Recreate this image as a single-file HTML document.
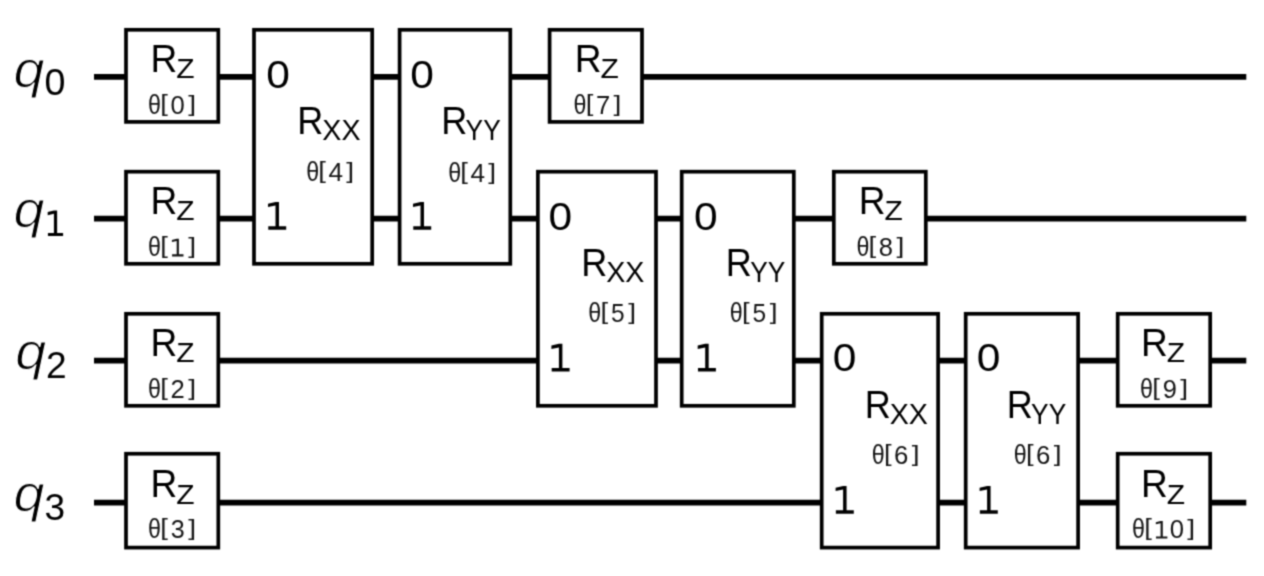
<!DOCTYPE html>
<html><head><meta charset="utf-8"><style>
html,body{margin:0;padding:0;background:#fff;}
body{width:1264px;height:576px;overflow:hidden;}
svg{display:block;font-family:"Liberation Sans", sans-serif;}

</style></head><body>
<svg width="1264" height="576" viewBox="0 0 1264 576">
<defs><filter id="soft" x="0" y="0" width="1264" height="576" filterUnits="userSpaceOnUse" color-interpolation-filters="sRGB"><feConvolveMatrix order="3" kernelMatrix="1 3 1 3 9 3 1 3 1" divisor="25" edgeMode="duplicate" preserveAlpha="false"/></filter></defs>
<rect x="0" y="0" width="1264" height="576" fill="#fff"/>
<g filter="url(#soft)">
<rect x="0" y="0" width="1264" height="576" fill="#fff"/>
<line x1="94.0" y1="76.8" x2="1246.3" y2="76.8" stroke="#000" stroke-width="5.8"/>
<line x1="94.0" y1="218.7" x2="1246.3" y2="218.7" stroke="#000" stroke-width="5.8"/>
<line x1="94.0" y1="360.6" x2="1246.3" y2="360.6" stroke="#000" stroke-width="5.8"/>
<line x1="94.0" y1="502.7" x2="1246.3" y2="502.7" stroke="#000" stroke-width="5.8"/>
<text transform="translate(13.40 87.14) scale(1.0828 1)" font-size="51.47" font-style="italic" stroke="#fff" stroke-width="1.0">q</text>
<text transform="translate(44.54 95.48) scale(1.0212 1)" font-size="36.90">0</text>
<text transform="translate(13.40 227.44) scale(1.0828 1)" font-size="51.47" font-style="italic" stroke="#fff" stroke-width="1.0">q</text>
<path d="M47.93,236.10L63.10,236.10L63.10,232.89L57.13,232.89L57.13,210.40L53.92,210.40L47.70,212.07L47.70,215.15L53.92,213.74L53.92,232.89L47.93,232.89Z" fill="#000"/>
<text transform="translate(15.20 369.34) scale(1.0828 1)" font-size="51.47" font-style="italic" stroke="#fff" stroke-width="1.0">q</text>
<text transform="translate(45.99 377.85) scale(1.0039 1)" font-size="37.00">2</text>
<text transform="translate(13.40 511.44) scale(1.0828 1)" font-size="51.47" font-style="italic" stroke="#fff" stroke-width="1.0">q</text>
<text transform="translate(44.57 519.59) scale(1.0149 1)" font-size="36.48">3</text>
<rect x="126.00" y="29.80" width="92.30" height="92.10" fill="#fff" stroke="#000" stroke-width="3.7"/>
<text transform="translate(150.38 71.85) scale(0.9382 1)" font-size="39.57">R</text>
<text transform="translate(176.15 77.95) scale(1.0508 1)" font-size="28.55">Z</text>
<text transform="translate(148.09 114.27) scale(0.8394 1)" font-size="27.76" fill="#151515">θ</text>
<text transform="translate(160.32 111.22) scale(1.1959 1)" font-size="22.99" fill="#151515">[</text>
<text transform="translate(170.58 114.10) scale(1.0236 1)" font-size="25.07" fill="#151515">0</text>
<text transform="translate(188.17 111.22) scale(1.2266 1)" font-size="22.99" fill="#151515">]</text>
<rect x="126.00" y="171.70" width="92.30" height="92.10" fill="#fff" stroke="#000" stroke-width="3.7"/>
<text transform="translate(150.38 213.75) scale(0.9382 1)" font-size="39.57">R</text>
<text transform="translate(176.15 219.85) scale(1.0508 1)" font-size="28.55">Z</text>
<text transform="translate(148.09 256.17) scale(0.8394 1)" font-size="27.76" fill="#151515">θ</text>
<text transform="translate(160.32 253.12) scale(1.1959 1)" font-size="22.99" fill="#151515">[</text>
<path d="M172.08,256.40L183.49,256.40L183.49,254.20L178.89,254.20L178.89,238.80L176.69,238.80L171.91,239.94L171.91,242.06L176.69,241.09L176.69,254.20L172.08,254.20Z" fill="#151515"/>
<text transform="translate(188.17 253.12) scale(1.2266 1)" font-size="22.99" fill="#151515">]</text>
<rect x="126.00" y="313.80" width="92.30" height="92.00" fill="#fff" stroke="#000" stroke-width="3.7"/>
<text transform="translate(150.38 355.65) scale(0.9382 1)" font-size="39.57">R</text>
<text transform="translate(176.15 361.75) scale(1.0508 1)" font-size="28.55">Z</text>
<text transform="translate(148.09 398.07) scale(0.8394 1)" font-size="27.76" fill="#151515">θ</text>
<text transform="translate(160.32 395.02) scale(1.1959 1)" font-size="22.99" fill="#151515">[</text>
<text transform="translate(170.60 398.15) scale(1.0066 1)" font-size="25.43" fill="#151515">2</text>
<text transform="translate(188.17 395.02) scale(1.2266 1)" font-size="22.99" fill="#151515">]</text>
<rect x="126.00" y="453.75" width="92.30" height="93.85" fill="#fff" stroke="#000" stroke-width="3.7"/>
<text transform="translate(150.38 497.45) scale(0.9382 1)" font-size="39.57">R</text>
<text transform="translate(176.15 503.55) scale(1.0508 1)" font-size="28.55">Z</text>
<text transform="translate(148.09 538.37) scale(0.8394 1)" font-size="27.76" fill="#151515">θ</text>
<text transform="translate(160.32 535.32) scale(1.1959 1)" font-size="22.99" fill="#151515">[</text>
<text transform="translate(170.78 538.20) scale(1.0037 1)" font-size="25.07" fill="#151515">3</text>
<text transform="translate(188.17 535.32) scale(1.2266 1)" font-size="22.99" fill="#151515">]</text>
<rect x="549.60" y="29.80" width="92.40" height="92.10" fill="#fff" stroke="#000" stroke-width="3.7"/>
<text transform="translate(574.68 71.85) scale(0.9382 1)" font-size="39.57">R</text>
<text transform="translate(600.45 77.95) scale(1.0508 1)" font-size="28.55">Z</text>
<text transform="translate(573.44 114.27) scale(0.8394 1)" font-size="27.76" fill="#151515">θ</text>
<text transform="translate(585.68 111.22) scale(1.1959 1)" font-size="22.99" fill="#151515">[</text>
<text transform="translate(595.95 114.35) scale(0.9922 1)" font-size="25.80" fill="#151515">7</text>
<text transform="translate(613.52 111.22) scale(1.2266 1)" font-size="22.99" fill="#151515">]</text>
<rect x="833.80" y="171.70" width="92.00" height="92.10" fill="#fff" stroke="#000" stroke-width="3.7"/>
<text transform="translate(858.68 213.75) scale(0.9382 1)" font-size="39.57">R</text>
<text transform="translate(884.45 219.85) scale(1.0508 1)" font-size="28.55">Z</text>
<text transform="translate(856.39 256.17) scale(0.8394 1)" font-size="27.76" fill="#151515">θ</text>
<text transform="translate(868.62 253.12) scale(1.1959 1)" font-size="22.99" fill="#151515">[</text>
<text transform="translate(878.85 256.00) scale(1.0191 1)" font-size="25.07" fill="#151515">8</text>
<text transform="translate(896.47 253.12) scale(1.2266 1)" font-size="22.99" fill="#151515">]</text>
<rect x="1117.70" y="313.80" width="92.50" height="92.00" fill="#fff" stroke="#000" stroke-width="3.7"/>
<text transform="translate(1140.88 355.65) scale(0.9382 1)" font-size="39.57">R</text>
<text transform="translate(1166.65 361.75) scale(1.0508 1)" font-size="28.55">Z</text>
<text transform="translate(1140.09 398.07) scale(0.8394 1)" font-size="27.76" fill="#151515">θ</text>
<text transform="translate(1152.33 395.02) scale(1.1959 1)" font-size="22.99" fill="#151515">[</text>
<text transform="translate(1162.64 397.90) scale(1.0145 1)" font-size="25.07" fill="#151515">9</text>
<text transform="translate(1180.17 395.02) scale(1.2266 1)" font-size="22.99" fill="#151515">]</text>
<rect x="1117.70" y="453.75" width="92.50" height="93.85" fill="#fff" stroke="#000" stroke-width="3.7"/>
<text transform="translate(1140.88 497.45) scale(0.9382 1)" font-size="39.57">R</text>
<text transform="translate(1166.65 503.55) scale(1.0508 1)" font-size="28.55">Z</text>
<text transform="translate(1131.99 538.37) scale(0.8394 1)" font-size="27.76" fill="#151515">θ</text>
<text transform="translate(1144.23 535.32) scale(1.1959 1)" font-size="22.99" fill="#151515">[</text>
<path d="M1155.98,538.60L1167.39,538.60L1167.39,536.40L1162.79,536.40L1162.79,521.00L1160.59,521.00L1155.81,522.14L1155.81,524.26L1160.59,523.29L1160.59,536.40L1155.98,536.40Z" fill="#151515"/>
<text transform="translate(1169.78 538.20) scale(1.0236 1)" font-size="25.07" fill="#151515">0</text>
<text transform="translate(1187.37 535.32) scale(1.2266 1)" font-size="22.99" fill="#151515">]</text>
<rect x="254.00" y="29.80" width="118.20" height="234.00" fill="#fff" stroke="#000" stroke-width="3.7"/>
<text transform="translate(266.35 87.66) scale(1.1020 1)" font-size="38.59">0</text>
<path d="M268.27,229.70L286.20,229.70L286.20,226.22L278.98,226.22L278.98,201.90L275.51,201.90L268.00,203.71L268.00,207.04L275.51,205.51L275.51,226.22L268.27,226.22Z" fill="#000"/>
<text transform="translate(297.36 133.85) scale(0.9158 1)" font-size="39.42">R</text>
<text transform="translate(322.33 139.95) scale(0.9980 1)" font-size="28.70">XX</text>
<text transform="translate(306.14 181.37) scale(0.8394 1)" font-size="27.76" fill="#151515">θ</text>
<text transform="translate(318.37 178.32) scale(1.1959 1)" font-size="22.99" fill="#151515">[</text>
<text transform="translate(328.55 181.45) scale(1.0152 1)" font-size="25.80" fill="#151515">4</text>
<text transform="translate(346.22 178.32) scale(1.2266 1)" font-size="22.99" fill="#151515">]</text>
<rect x="399.60" y="29.80" width="110.70" height="234.00" fill="#fff" stroke="#000" stroke-width="3.7"/>
<text transform="translate(410.15 87.66) scale(1.1020 1)" font-size="38.59">0</text>
<path d="M413.27,229.70L431.20,229.70L431.20,226.22L423.98,226.22L423.98,201.90L420.51,201.90L413.00,203.71L413.00,207.04L420.51,205.51L420.51,226.22L413.27,226.22Z" fill="#000"/>
<text transform="translate(441.26 133.85) scale(0.9158 1)" font-size="39.42">R</text>
<text transform="translate(465.59 139.95) scale(0.9166 1)" font-size="28.70">YY</text>
<text transform="translate(448.14 181.57) scale(0.8394 1)" font-size="27.76" fill="#151515">θ</text>
<text transform="translate(460.37 178.52) scale(1.1959 1)" font-size="22.99" fill="#151515">[</text>
<text transform="translate(470.55 181.65) scale(1.0152 1)" font-size="25.80" fill="#151515">4</text>
<text transform="translate(488.22 178.52) scale(1.2266 1)" font-size="22.99" fill="#151515">]</text>
<rect x="537.90" y="171.70" width="118.10" height="234.10" fill="#fff" stroke="#000" stroke-width="3.7"/>
<text transform="translate(548.45 229.56) scale(1.1020 1)" font-size="38.59">0</text>
<path d="M551.67,371.60L569.60,371.60L569.60,368.12L562.38,368.12L562.38,343.80L558.91,343.80L551.40,345.61L551.40,348.94L558.91,347.41L558.91,368.12L551.67,368.12Z" fill="#000"/>
<text transform="translate(581.16 275.75) scale(0.9158 1)" font-size="39.42">R</text>
<text transform="translate(606.13 281.85) scale(0.9980 1)" font-size="28.70">XX</text>
<text transform="translate(588.14 322.07) scale(0.8394 1)" font-size="27.76" fill="#151515">θ</text>
<text transform="translate(600.38 319.02) scale(1.1959 1)" font-size="22.99" fill="#151515">[</text>
<text transform="translate(610.95 321.90) scale(0.9642 1)" font-size="25.43" fill="#151515">5</text>
<text transform="translate(628.22 319.02) scale(1.2266 1)" font-size="22.99" fill="#151515">]</text>
<rect x="681.70" y="171.70" width="112.10" height="234.10" fill="#fff" stroke="#000" stroke-width="3.7"/>
<text transform="translate(694.05 229.56) scale(1.1020 1)" font-size="38.59">0</text>
<path d="M697.97,371.60L715.90,371.60L715.90,368.12L708.68,368.12L708.68,343.80L705.21,343.80L697.70,345.61L697.70,348.94L705.21,347.41L705.21,368.12L697.97,368.12Z" fill="#000"/>
<text transform="translate(725.86 275.75) scale(0.9158 1)" font-size="39.42">R</text>
<text transform="translate(750.19 281.85) scale(0.9166 1)" font-size="28.70">YY</text>
<text transform="translate(729.69 322.27) scale(0.8394 1)" font-size="27.76" fill="#151515">θ</text>
<text transform="translate(741.93 319.22) scale(1.1959 1)" font-size="22.99" fill="#151515">[</text>
<text transform="translate(752.50 322.10) scale(0.9642 1)" font-size="25.43" fill="#151515">5</text>
<text transform="translate(769.77 319.22) scale(1.2266 1)" font-size="22.99" fill="#151515">]</text>
<rect x="821.70" y="313.80" width="116.40" height="233.80" fill="#fff" stroke="#000" stroke-width="3.7"/>
<text transform="translate(832.65 371.46) scale(1.1020 1)" font-size="38.59">0</text>
<path d="M835.87,513.70L853.80,513.70L853.80,510.23L846.58,510.23L846.58,485.90L843.11,485.90L835.60,487.71L835.60,491.04L843.11,489.51L843.11,510.23L835.87,510.23Z" fill="#000"/>
<text transform="translate(864.76 417.65) scale(0.9158 1)" font-size="39.42">R</text>
<text transform="translate(889.73 423.75) scale(0.9980 1)" font-size="28.70">XX</text>
<text transform="translate(871.69 464.27) scale(0.8394 1)" font-size="27.76" fill="#151515">θ</text>
<text transform="translate(883.93 461.22) scale(1.1959 1)" font-size="22.99" fill="#151515">[</text>
<text transform="translate(894.10 464.10) scale(1.0255 1)" font-size="25.07" fill="#151515">6</text>
<text transform="translate(911.77 461.22) scale(1.2266 1)" font-size="22.99" fill="#151515">]</text>
<rect x="965.70" y="313.80" width="112.40" height="233.80" fill="#fff" stroke="#000" stroke-width="3.7"/>
<text transform="translate(976.65 371.46) scale(1.1020 1)" font-size="38.59">0</text>
<path d="M979.87,513.70L997.80,513.70L997.80,510.23L990.58,510.23L990.58,485.90L987.11,485.90L979.60,487.71L979.60,491.04L987.11,489.51L987.11,510.23L979.87,510.23Z" fill="#000"/>
<text transform="translate(1006.76 417.65) scale(0.9158 1)" font-size="39.42">R</text>
<text transform="translate(1031.09 423.75) scale(0.9166 1)" font-size="28.70">YY</text>
<text transform="translate(1013.69 464.27) scale(0.8394 1)" font-size="27.76" fill="#151515">θ</text>
<text transform="translate(1025.93 461.22) scale(1.1959 1)" font-size="22.99" fill="#151515">[</text>
<text transform="translate(1036.10 464.10) scale(1.0255 1)" font-size="25.07" fill="#151515">6</text>
<text transform="translate(1053.77 461.22) scale(1.2266 1)" font-size="22.99" fill="#151515">]</text>
</g>
</svg>
</body></html>
